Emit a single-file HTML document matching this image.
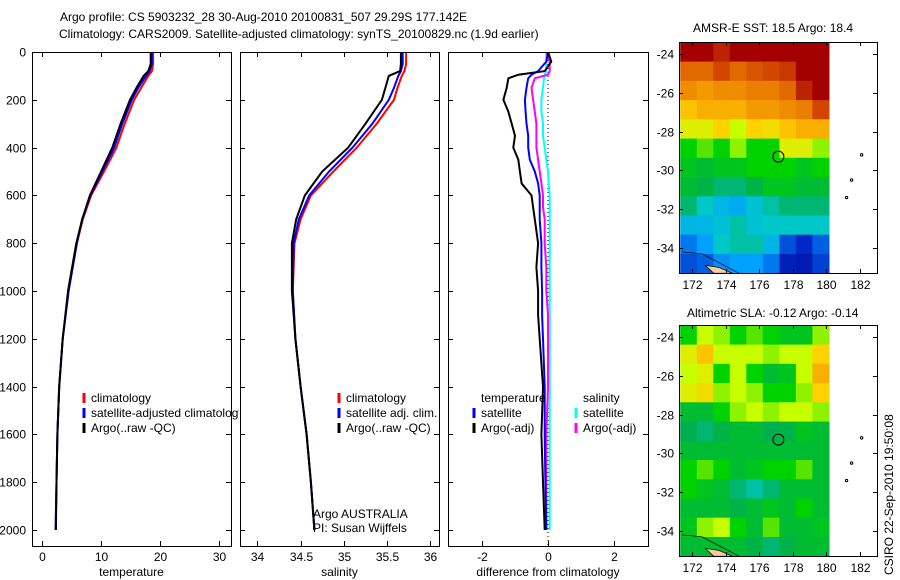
<!DOCTYPE html>
<html><head><meta charset="utf-8"><style>
body{margin:0;background:#fff}
svg{display:block;font-family:"Liberation Sans",sans-serif;font-size:12px}
</style></head><body>
<svg id="s" width="900" height="580" viewBox="0 0 900 580">
<rect width="900" height="580" fill="#fff"/>
<text x="60" y="21">Argo profile: CS 5903232_28 30-Aug-2010 20100831_507 29.29S 177.142E</text>
<text x="59" y="38">Climatology: CARS2009. Satellite-adjusted climatology: synTS_20100829.nc (1.9d earlier)</text>
<text x="693" y="32">AMSR-E SST: 18.5 Argo: 18.4</text>
<text x="687" y="317">Altimetric SLA: -0.12 Argo: -0.14</text>
<text transform="translate(893,575) rotate(-90)">CSIRO 22-Sep-2010 19:50:08</text>
<g id="g"></g>
</svg>
<script>
// ---- profile data ----
const depthTS = [0,50,80,100,150,200,300,400,500,600,700,800,1000,1200,1400,1600,1800,2000];
const tempClim = [18.8,18.8,18.6,18.0,16.8,15.6,14.0,12.6,10.5,8.3,6.9,5.9,4.5,3.5,2.9,2.6,2.45,2.3];
const tempSat  = [18.6,18.6,18.2,17.6,16.3,15.2,13.6,12.2,10.2,8.2,6.8,5.9,4.5,3.5,2.9,2.6,2.45,2.3];
const tempArgo = [18.4,18.4,18.0,17.2,16.0,14.9,13.3,11.9,10.0,8.1,6.8,5.8,4.4,3.5,2.9,2.6,2.45,2.35];
const salClim = [35.72,35.72,35.7,35.67,35.62,35.58,35.38,35.15,34.88,34.62,34.5,34.43,34.41,34.44,34.5,34.57,34.62,34.66];
const salSat  = [35.68,35.68,35.66,35.63,35.58,35.52,35.33,35.1,34.83,34.6,34.48,34.42,34.41,34.44,34.5,34.57,34.62,34.66];
const salArgo = [35.66,35.66,35.65,35.52,35.48,35.44,35.25,35.05,34.75,34.55,34.45,34.4,34.4,34.44,34.5,34.57,34.62,34.66];
const depthDiff = [0,40,80,95,110,150,200,250,300,350,400,450,500,550,600,650,700,800,900,1000,1100,1200,1400,1600,1800,2000];
const diffTempArgo = [0,0.1,-0.1,-0.9,-1.2,-1.25,-1.35,-1.2,-1.1,-1.0,-1.05,-0.9,-0.85,-0.8,-0.5,-0.45,-0.4,-0.3,-0.35,-0.3,-0.3,-0.25,-0.15,-0.2,-0.15,-0.1];
const diffTempSat  = [0,-0.05,-0.3,-0.5,-0.6,-0.65,-0.7,-0.68,-0.65,-0.6,-0.6,-0.55,-0.4,-0.3,-0.25,-0.25,-0.25,-0.2,-0.2,-0.18,-0.18,-0.15,-0.1,-0.1,-0.08,-0.05];
const diffSalSat   = [-0.05,-0.05,-0.05,-0.1,-0.12,-0.15,-0.2,-0.2,-0.15,-0.15,-0.1,-0.05,0,0.02,0.05,0.05,0.05,0.05,0.05,0.05,0.05,0.05,0.05,0.05,0.05,0.05];
const diffSalArgo  = [-0.05,0.05,0.05,0,-0.4,-0.5,-0.45,-0.4,-0.35,-0.35,-0.35,-0.3,-0.25,-0.2,-0.15,-0.15,-0.1,-0.1,-0.05,-0.05,0,0,0,-0.05,-0.05,-0.05];
const depthTicks = [0,200,400,600,800,1000,1200,1400,1600,1800,2000];
const tempTicks = [0,10,20,30];
const salTicks = [34,34.5,35,35.5,36];
const diffTicks = [-2,0,2];
// ---- map data (colour index 0..1), rows -24..-35 lat, cols 172..180 lon ----
const sstGrid = [
[1,1,0.95,1,1,1,1,1,1],
[0.85,0.85,0.9,0.85,0.88,0.9,0.92,1,1],
[0.8,0.78,0.8,0.8,0.82,0.82,0.85,0.95,1],
[0.72,0.75,0.75,0.75,0.78,0.78,0.8,0.82,0.9],
[0.65,0.65,0.7,0.62,0.7,0.68,0.72,0.75,0.75],
[0.55,0.58,0.55,0.6,0.55,0.55,0.65,0.65,0.6],
[0.52,0.5,0.52,0.52,0.55,0.55,0.55,0.52,0.55],
[0.5,0.48,0.45,0.45,0.48,0.52,0.52,0.5,0.5],
[0.45,0.4,0.35,0.33,0.38,0.42,0.45,0.45,0.45],
[0.35,0.35,0.38,0.42,0.38,0.4,0.4,0.4,0.4],
[0.25,0.3,0.4,0.42,0.42,0.35,0.2,0.15,0.22],
[0.2,0.22,0.28,0.3,0.3,0.25,0.12,0.1,0.18]];
const slaGrid = [
[0.55,0.62,0.6,0.55,0.58,0.55,0.52,0.52,0.6],
[0.65,0.72,0.62,0.62,0.62,0.6,0.62,0.62,0.7],
[0.62,0.65,0.55,0.62,0.55,0.5,0.52,0.62,0.75],
[0.65,0.68,0.6,0.62,0.6,0.55,0.55,0.6,0.7],
[0.5,0.5,0.55,0.6,0.62,0.6,0.62,0.62,0.6],
[0.47,0.45,0.48,0.5,0.5,0.47,0.48,0.52,0.5],
[0.5,0.5,0.5,0.5,0.5,0.5,0.5,0.5,0.5],
[0.55,0.58,0.55,0.5,0.52,0.55,0.55,0.58,0.5],
[0.55,0.52,0.5,0.45,0.42,0.45,0.5,0.5,0.5],
[0.5,0.5,0.5,0.48,0.5,0.52,0.5,0.55,0.5],
[0.52,0.6,0.62,0.55,0.5,0.58,0.5,0.5,0.52],
[0.5,0.5,0.5,0.5,0.48,0.45,0.48,0.5,0.5]];
const lonTicks = [172,174,176,178,180,182];
const latTicks = [-24,-26,-28,-30,-32,-34];
const argoLon = 177.142, argoLat = -29.29;

const NS='http://www.w3.org/2000/svg', G=document.getElementById('g');
function el(t,a,p){const e=document.createElementNS(NS,t);for(const k in a)e.setAttribute(k,a[k]);(p||G).appendChild(e);return e;}
const TOP=52,BOT=546;
const yD=d=>TOP+d*478/2000;
const panels=[
 {x0:32,x1:231,lo:-1.7,hi:32,ticks:tempTicks,label:'temperature',name:'temperature-panel'},
 {x0:240,x1:439,lo:33.8,hi:36.1,ticks:salTicks,label:'salinity',name:'salinity-panel'},
 {x0:448,x1:648,lo:-3.03,hi:3.03,ticks:diffTicks,label:'difference from climatology',name:'difference-panel'}];
const cpL=el('clipPath',{id:'legclip'});el('rect',{x:0,y:0,width:239,height:580},cpL);
panels.forEach((p,i)=>{
 p.sx=v=>p.x0+(v-p.lo)/(p.hi-p.lo)*(p.x1-p.x0);
 const cp=el('clipPath',{id:'c'+i});el('rect',{x:p.x0,y:TOP,width:p.x1-p.x0,height:BOT-TOP},cp);
 const g=el('g',{});
 
 
 p.g=g;
 p.pl=el('g',{'clip-path':'url(#c'+i+')'},g);
});
function line(p,vals,deps,col,w,name){
 const pts=vals.map((v,k)=>p.sx(v).toFixed(1)+','+yD(deps[k]).toFixed(1)).join(' ');
 const e=el('polyline',{points:pts,fill:'none',stroke:col,'stroke-width':w},p.pl);
 
 
}
const [P1,P2,P3]=panels;
line(P1,tempClim,depthTS,'#f00',2,'temp-climatology-line');
line(P1,tempSat,depthTS,'#00f',2,'temp-satellite-line');
line(P1,tempArgo,depthTS,'#000',2,'temp-argo-line');
line(P2,salClim,depthTS,'#f00',2,'sal-climatology-line');
line(P2,salSat,depthTS,'#00f',2,'sal-satellite-line');
line(P2,salArgo,depthTS,'#000',2,'sal-argo-line');
el('line',{x1:P3.sx(0),x2:P3.sx(0),y1:TOP,y2:BOT,stroke:'#000','stroke-dasharray':'1,3'},P3.pl);
line(P3,diffSalSat,depthDiff,'#0ff',2,'diff-sal-satellite-line');
line(P3,diffSalArgo,depthDiff,'#f0f',2,'diff-sal-argo-line');
line(P3,diffTempSat,depthDiff,'#00f',2,'diff-temp-satellite-line');
line(P3,diffTempArgo,depthDiff,'#000',2,'diff-temp-argo-line');
panels.forEach((p,i)=>{
 const g=p.g;
 el('rect',{x:p.x0+.5,y:TOP+.5,width:p.x1-p.x0,height:BOT-TOP,fill:'none',stroke:'#000'},g);
 depthTicks.forEach(d=>{const y=Math.round(yD(d))+.5;
  el('line',{x1:p.x0,x2:p.x0+5,y1:y,y2:y,stroke:'#000'},g);
  el('line',{x1:p.x1-5,x2:p.x1,y1:y,y2:y,stroke:'#000'},g);
  if(i==0){const t=el('text',{x:p.x0-6,y:y+4,'text-anchor':'end'},g);t.textContent=d;
   }
 });
 p.ticks.forEach(v=>{const x=Math.round(p.sx(v))+.5;
  el('line',{x1:x,x2:x,y1:TOP,y2:TOP+5,stroke:'#000'},g);
  el('line',{x1:x,x2:x,y1:BOT-5,y2:BOT,stroke:'#000'},g);
  const t=el('text',{x:x,y:561,'text-anchor':'middle'},g);t.textContent=v;
  
 });
 const t=el('text',{x:(p.x0+p.x1)/2,y:576,'text-anchor':'middle'},g);t.textContent=p.label;
 
});
function legend(x,y,items,g,nm){
 items.forEach((it,k)=>{const yy=y+k*15;
  if(it[1])el('line',{x1:x,x2:x,y1:yy-9,y2:yy+1,stroke:it[1],'stroke-width':3},g);
  const t=el('text',{x:x+7,y:yy},g);t.textContent=it[0];
  });
}
const L1=el('g',{'clip-path':'url(#legclip)'},P1.g);
legend(84,402,[['climatology','#f00'],['satellite-adjusted climatology','#00f'],['Argo(..raw -QC)','#000']],L1,'temp-legend');
legend(339,402,[['climatology','#f00'],['satellite adj. clim.','#00f'],['Argo(..raw -QC)','#000']],P2.g,'sal-legend');
legend(474,402,[['temperature',null],['satellite','#00f'],['Argo(-adj)','#000']],P3.g,'diff-temp-legend');
legend(576,402,[['salinity',null],['satellite','#0ff'],['Argo(-adj)','#f0f']],P3.g,'diff-sal-legend');
let t1=el('text',{x:313,y:518},P2.g);t1.textContent='Argo AUSTRALIA';

let t2=el('text',{x:313,y:532},P2.g);t2.textContent='PI: Susan Wijffels';

// ---- maps ----
const stops=[[0,[0,0,140]],[0.15,[0,40,200]],[0.3,[0,160,255]],[0.4,[0,200,200]],[0.47,[0,175,80]],[0.55,[0,210,0]],[0.62,[200,255,0]],[0.7,[255,210,0]],[0.8,[240,140,0]],[0.9,[210,70,0]],[1,[165,0,0]]];
function cmap(v){for(let k=1;k<stops.length;k++){if(v<=stops[k][0]){const a=stops[k-1],b=stops[k],f=(v-a[0])/(b[0]-a[0]);return 'rgb('+a[1].map((c,j)=>Math.round(c+(b[1][j]-c)*f)).join(',')+')';}}return 'rgb(165,0,0)';}
function map(dy,grid,name){
 const g=el('g',{});
 const sx=lon=>692+16.8*(lon-172), sy=lat=>dy+54+19.4*(-24-lat);
 const lat0=-23.4, lon0=171.3, nC=grid[0].length, nR=grid.length;
 const dLon=(180.15-lon0)/nC, dLat=(lat0+35.3)/nR;
 grid.forEach((row,r)=>row.forEach((v,c)=>{
  const x=sx(lon0+c*dLon), y=sy(lat0-r*dLat);
  const e=el('rect',{x:x.toFixed(1),y:y.toFixed(1),width:(16.8*dLon+0.6).toFixed(1),height:(19.4*dLat+0.6).toFixed(1),fill:cmap(v)},g);
  
 }));
 el('path',{d:`M${sx(172.8)} ${sy(-34.9)} L${sx(173.6)} ${sy(-35)} L${sx(174.4)} ${sy(-35.3)} L${sx(173.3)} ${sy(-35.3)} Z`,fill:'#fc9',stroke:'#000','stroke-width':.7},g);
 el('path',{d:`M${sx(171.4)} ${sy(-34.2)} L${sx(172.6)} ${sy(-34.3)} L${sx(173.7)} ${sy(-34.8)} L${sx(174.8)} ${sy(-35.3)}`,fill:'none',stroke:'#000','stroke-width':.7},g);
 [[181.2,-31.4],[181.5,-30.5],[182.1,-29.2]].forEach(q=>el('circle',{cx:sx(q[0]),cy:sy(q[1]),r:1.2,fill:'none',stroke:'#000'},g));
 const c=el('circle',{cx:sx(argoLon),cy:sy(argoLat),r:5.5,fill:'none',stroke:'#000'},g);
 
 const T=dy+42,B=dy+273,L=679,R=877;
 el('rect',{x:L+.5,y:T+.5,width:R-L,height:B-T,fill:'none',stroke:'#000'},g);
 lonTicks.forEach(lon=>{const x=Math.round(sx(lon))+.5;
  el('line',{x1:x,x2:x,y1:T,y2:T+4,stroke:'#000'},g);el('line',{x1:x,x2:x,y1:B-4,y2:B,stroke:'#000'},g);
  const t=el('text',{x:x,y:B+16,'text-anchor':'middle'},g);t.textContent=lon;
  });
 latTicks.forEach(lat=>{const y=Math.round(sy(lat))+.5;
  el('line',{x1:L,x2:L+4,y1:y,y2:y,stroke:'#000'},g);el('line',{x1:R-4,x2:R,y1:y,y2:y,stroke:'#000'},g);
  const t=el('text',{x:L-5,y:y+4,'text-anchor':'end'},g);t.textContent=lat;
  });
}
map(0,sstGrid,'sst-map');
map(283,slaGrid,'sla-map');
</script>
</body></html>
